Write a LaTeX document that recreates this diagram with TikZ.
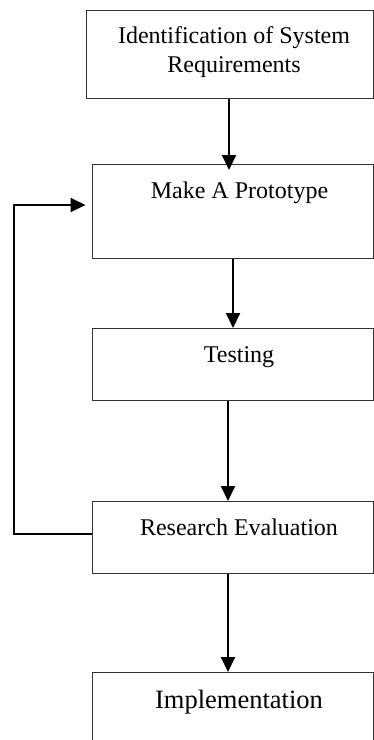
\documentclass[tikz,border=0pt]{standalone}
\usepackage{fontspec}
\setmainfont{Liberation Serif}
\usetikzlibrary{arrows.meta}
\begin{document}
\begin{tikzpicture}[x=1pt,y=-1pt,
  box/.style={draw=black!80,line width=1.2pt,rectangle,inner sep=0pt,anchor=north west},
  lbl/.style={inner sep=0pt,font=\fontsize{24}{29}\selectfont},
  arr/.style={line width=2pt,-{Triangle[length=15pt,width=14pt]}}]
\clip (0,0) rectangle (374,740);
\fill[white] (0,0) rectangle (374,740);
% boxes
\node[box,minimum width=287pt,minimum height=88.5pt] (b1) at (86,9.5) {};
\node[box,minimum width=281pt,minimum height=94pt] (b2) at (92,164) {};
\node[box,minimum width=281pt,minimum height=72pt] (b3) at (92,328) {};
\node[box,minimum width=281pt,minimum height=72pt] (b4) at (92,501) {};
\node[box,minimum width=281pt,minimum height=120pt] (b5) at (92,672) {};
% labels
\node[lbl,align=center,anchor=center] (t1) at (234,52) {Identification of System\\Requirements};
\node[lbl,anchor=base] (t2) at (239.5,198) {Make A Prototype};
\node[lbl,anchor=base] (t3) at (239,362) {Testing};
\node[lbl,anchor=base] (t4) at (239,535) {Research Evaluation};
\node[lbl,anchor=base,font=\fontsize{26.5}{31}\selectfont] (t5) at (239,708) {Implementation};
% arrows
\draw[arr,shorten >=-6pt] (b1.south -| 229,0) -- (b2.north -| 229,0);
\draw[arr] (b2.south -| 233,0) -- (b3.north -| 233,0);
\draw[arr] (b3.south -| 228,0) -- (b4.north -| 228,0);
\draw[arr] (b4.south -| 228,0) -- (b5.north -| 228,0);
% feedback
\coordinate (fb1) at (14,534);
\coordinate (fb2) at (14,205);
\draw[arr,shorten >=6.5pt] (b4.west |- 0,534) -- (fb1) -- (fb2) -- (b2.west |- 0,205);
\end{tikzpicture}
\end{document}
